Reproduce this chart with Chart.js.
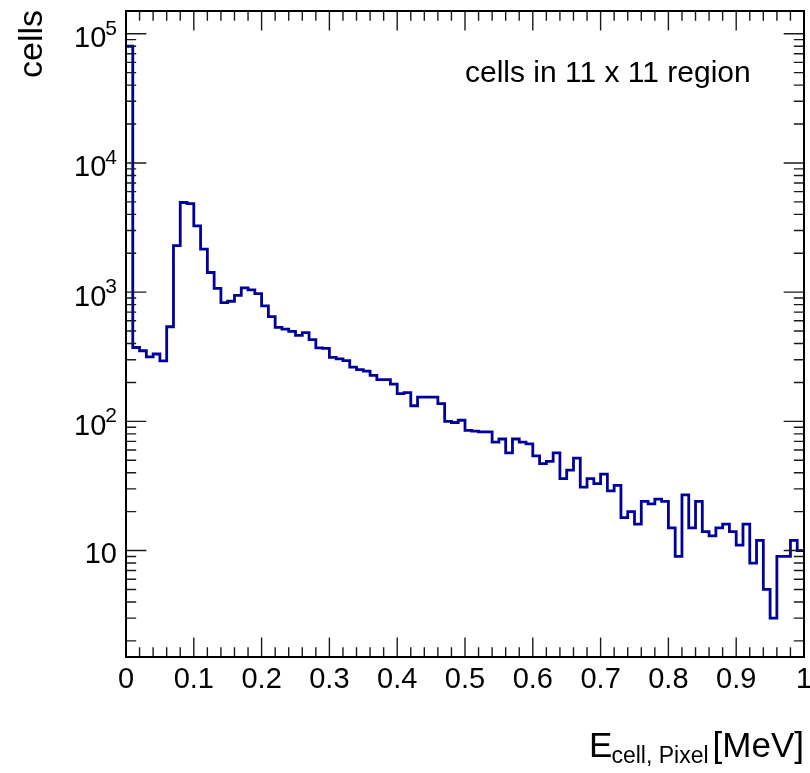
<!DOCTYPE html>
<html>
<head>
<meta charset="utf-8">
<script src="https://cdn.jsdelivr.net/npm/chart.js@4/dist/chart.umd.min.js"></script>
<style>
  html, body { margin: 0; padding: 0; background: #ffffff; }
  canvas { display: block; }
</style>
</head>
<body>
<canvas id="hist" width="810" height="773"></canvas>
<script>
// Histogram range and binning (energy in MeV)
const xRange = [0, 1];
const nBins = 100;

// Cell counts per 0.01 MeV bin
const counts = [
  80000,  373,  352,  315,  332,  294,  540, 2290, 4940, 4850,
   3260, 2150, 1420, 1070,  830,  850,  945, 1080, 1040,  973,
    782,  646,  534,  518,  497,  463,  486,  429,  370,  367,
    313,  304,  295,  263,  251,  245,  227,  210,  210,  194,
    164,  167,  132,  154,  154,  154,  137,  100,   98,  102,
     85,   84,   83,   83,   69,   73,   57,   73,   69,   67,
     54,   47,   49,   57,   36,   42,   52,   31,   36,   33,
     39,   29,   32,   18,   20,   16,   24,   23,   25,   24,
     15,    9,   27,   15,   24,   14,   13,   15,   16,   14,
     11,   16,    8,   12,    5,    3,    9,    9,   12,   10
];

// Axis ticks and labels
const xTickValues = [0, 0.1, 0.2, 0.3, 0.4, 0.5, 0.6, 0.7, 0.8, 0.9, 1];
const xTickLabels = ['0', '0.1', '0.2', '0.3', '0.4', '0.5', '0.6', '0.7', '0.8', '0.9', '1'];
const xMinorPerMajor = 5;
const yRange = [1.5, 1.5e5];
const yDecadeExponents = [1, 2, 3, 4, 5];

const annotationText = 'cells in 11 x 11 region';
const yTitle = 'cells';
const xTitleMain = 'E';
const xTitleSub = 'cell, Pixel';
const xTitleUnit = '[MeV]';

const FONT = '"Liberation Sans", Arial, Helvetica, sans-serif';
const LINE_COLOR = 'rgb(0,0,155)';

// Step outline: one point on each bin's lower edge, closed at the upper edge
const binWidth = (xRange[1] - xRange[0]) / nBins;
const outline = counts.map((v, i) => ({ x: xRange[0] + i * binWidth, y: v }));
outline.push({ x: xRange[1], y: counts[counts.length - 1] });

// Frame, inward ticks on all four sides, labels and titles
const rootStyleAxes = {
  id: 'rootStyleAxes',
  afterDatasetsDraw(chart) {
    const { ctx, chartArea: a, scales } = chart;
    const xs = scales.x, ys = scales.y;
    const h = a.bottom - a.top, w = a.right - a.left;
    const xMajorLen = 0.03 * h, xMinorLen = 0.015 * h;
    const yMajorLen = 0.03 * w, yMinorLen = 0.015 * w;

    ctx.save();
    ctx.strokeStyle = '#1a1a1a';
    ctx.lineWidth = 1.4;
    ctx.beginPath();
    // x ticks (bottom and mirrored top)
    for (let i = 0; i < xTickValues.length; i++) {
      const px = xs.getPixelForValue(xTickValues[i]);
      ctx.moveTo(px, a.bottom); ctx.lineTo(px, a.bottom - xMajorLen);
      ctx.moveTo(px, a.top); ctx.lineTo(px, a.top + xMajorLen);
      if (i < xTickValues.length - 1) {
        const step = (xTickValues[i + 1] - xTickValues[i]) / xMinorPerMajor;
        for (let k = 1; k < xMinorPerMajor; k++) {
          const pm = xs.getPixelForValue(xTickValues[i] + k * step);
          ctx.moveTo(pm, a.bottom); ctx.lineTo(pm, a.bottom - xMinorLen);
          ctx.moveTo(pm, a.top); ctx.lineTo(pm, a.top + xMinorLen);
        }
      }
    }
    // y ticks (left and mirrored right), decades plus 2..9 subdivisions
    for (let d = 0; d <= 5; d++) {
      for (let m = 1; m <= 9; m++) {
        const v = m * Math.pow(10, d);
        if (v < yRange[0] || v > yRange[1]) continue;
        const py = ys.getPixelForValue(v);
        const len = m === 1 ? yMajorLen : yMinorLen;
        ctx.moveTo(a.left, py); ctx.lineTo(a.left + len, py);
        ctx.moveTo(a.right, py); ctx.lineTo(a.right - len, py);
      }
    }
    ctx.stroke();

    // frame
    ctx.strokeStyle = '#000';
    ctx.lineWidth = 2;
    ctx.strokeRect(a.left, a.top, w, h);
    ctx.restore();
  },
  afterDraw(chart) {
    const { ctx, chartArea: a, scales } = chart;
    const xs = scales.x, ys = scales.y;
    ctx.save();
    ctx.fillStyle = '#000';

    // x tick labels
    ctx.font = '29px ' + FONT;
    ctx.textAlign = 'center';
    ctx.textBaseline = 'alphabetic';
    xTickValues.forEach((v, i) => {
      ctx.fillText(xTickLabels[i], xs.getPixelForValue(v), a.bottom + 31);
    });

    // y tick labels: 10, 10^2 ... 10^5
    const labelRight = a.left - 9;
    yDecadeExponents.forEach((e) => {
      const py = ys.getPixelForValue(Math.pow(10, e));
      ctx.textAlign = 'right';
      if (e === 1) {
        ctx.font = '29px ' + FONT;
        ctx.fillText('10', labelRight, py + 12.5);
      } else {
        ctx.font = '21px ' + FONT;
        const sup = String(e);
        const sw = ctx.measureText(sup).width;
        ctx.fillText(sup, labelRight, py + 1);
        ctx.font = '29px ' + FONT;
        ctx.fillText('10', labelRight - sw + 1, py + 13.5);
      }
    });

    // x axis title, right-aligned at the end of the axis
    const baseY = 757;
    ctx.textAlign = 'left';
    ctx.font = '35px ' + FONT;
    const unitW = ctx.measureText(xTitleUnit).width;
    const mainW = ctx.measureText(xTitleMain).width;
    ctx.font = '23px ' + FONT;
    const subW = ctx.measureText(xTitleSub).width;
    const gap = 4;
    const unitX = a.right - unitW;
    const subX = unitX - gap - subW;
    const mainX = subX - mainW + 1;
    ctx.font = '35px ' + FONT;
    ctx.fillText(xTitleUnit, unitX, baseY);
    ctx.fillText(xTitleMain, mainX, baseY);
    ctx.font = '23px ' + FONT;
    ctx.fillText(xTitleSub, subX, baseY + 6);

    // y axis title, rotated, aligned to the top of the axis
    ctx.save();
    ctx.translate(42, a.top - 1);
    ctx.rotate(-Math.PI / 2);
    ctx.font = '34px ' + FONT;
    ctx.textAlign = 'right';
    ctx.fillText(yTitle, 0, 0);
    ctx.restore();

    // annotation
    ctx.font = '30px ' + FONT;
    ctx.textAlign = 'left';
    ctx.fillText(annotationText, 465, 82);
    ctx.restore();
  }
};

new Chart(document.getElementById('hist').getContext('2d'), {
  type: 'line',
  data: {
    datasets: [{
      data: outline,
      stepped: true,
      borderColor: LINE_COLOR,
      borderWidth: 2.8,
      borderJoinStyle: 'miter',
      borderCapStyle: 'butt',
      pointRadius: 0,
      fill: false,
      tension: 0
    }]
  },
  options: {
    responsive: false,
    animation: false,
    devicePixelRatio: 1,
    layout: { padding: { left: 126, right: 6, top: 11, bottom: 116 } },
    scales: {
      x: { type: 'linear', min: xRange[0], max: xRange[1], display: false },
      y: { type: 'logarithmic', min: yRange[0], max: yRange[1], display: false }
    },
    plugins: {
      legend: { display: false },
      tooltip: { enabled: false }
    }
  },
  plugins: [rootStyleAxes]
});
</script>
</body>
</html>
